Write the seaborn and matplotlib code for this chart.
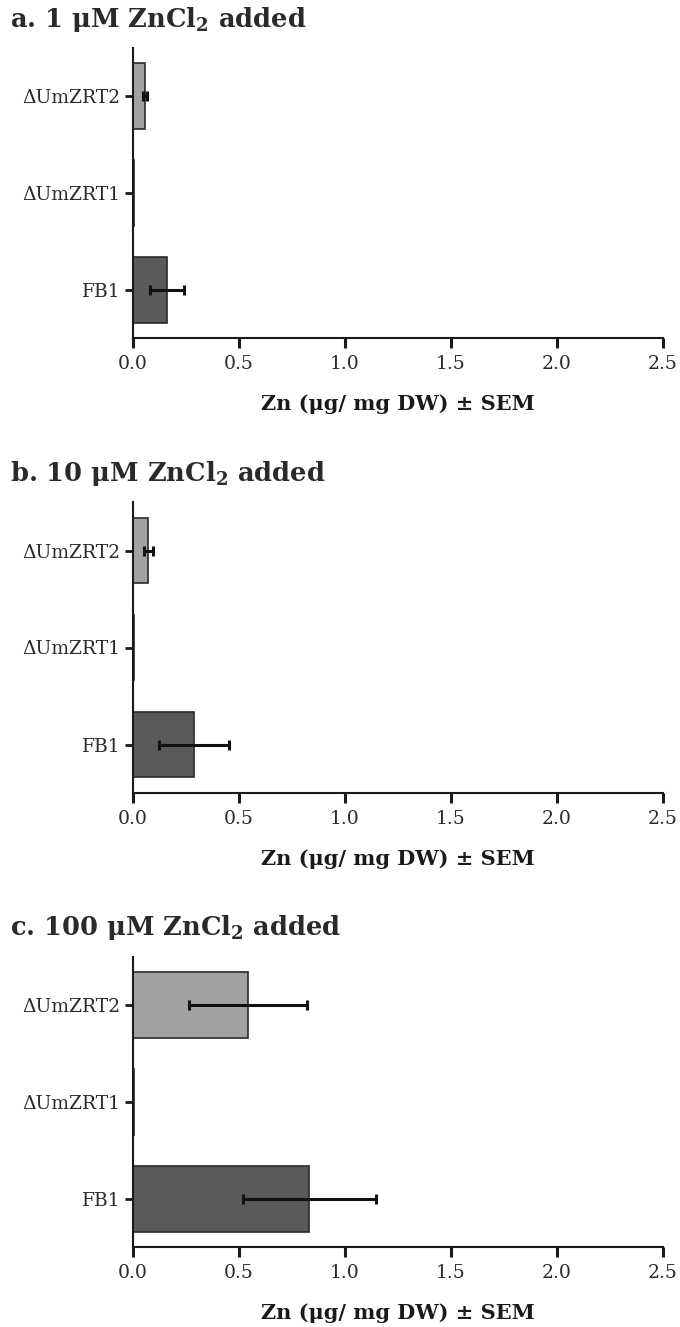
import numpy as np
import pandas as pd
import matplotlib
matplotlib.use('Agg')
import matplotlib.pyplot as plt
import seaborn as sns

# data (Zn ug/mg DW, mean and SEM)
strains = ['\u0394UmZRT2', '\u0394UmZRT1', 'FB1']
panel_titles = ['a. 1 \u03bcM ZnCl$_2$ added',
                'b. 10 \u03bcM ZnCl$_2$ added',
                'c. 100 \u03bcM ZnCl$_2$ added']
zn_1uM = [0.057, 0.004, 0.160]
sem_1uM = [0.010, 0.0, 0.082]
zn_10uM = [0.072, 0.004, 0.287]
sem_10uM = [0.021, 0.0, 0.166]
zn_100uM = [0.542, 0.004, 0.832]
sem_100uM = [0.280, 0.0, 0.314]
x_ticks = [0.0, 0.5, 1.0, 1.5, 2.0, 2.5]
bar_colors = ['#a2a2a2', '#8a8a8a', '#5a5a5a']

sns.set_style('white')
plt.rcParams['font.family'] = ['DejaVu Serif']
plt.rcParams['mathtext.fontset'] = 'custom'
plt.rcParams['mathtext.rm'] = 'DejaVu Serif:bold'
plt.rcParams['mathtext.bf'] = 'DejaVu Serif:bold'
plt.rcParams['mathtext.it'] = 'DejaVu Serif:bold'

fig = plt.figure(figsize=(6.8, 13.27), dpi=100)

left, width = 133 / 680, 530 / 680
# (top, bottom) of each axes in pixels
boxes = [(48, 338), (502, 793), (957, 1247)]
title_y = [20, 473, 928]

panels = [(zn_1uM, sem_1uM), (zn_10uM, sem_10uM), (zn_100uM, sem_100uM)]

for i, (vals, sems) in enumerate(panels):
    top, bot = boxes[i]
    ax = fig.add_axes([left, 1 - bot / 1327, width, (bot - top) / 1327])
    df = pd.DataFrame({'strain': strains, 'zn': vals, 'sem': sems})
    df['pos'] = np.arange(len(strains))
    sns.barplot(data=df, x='zn', y='strain', hue='strain', order=strains,
                palette=bar_colors, orient='h', width=0.68, errorbar=None,
                edgecolor='#2a2a2a', linewidth=1.2, legend=False, ax=ax)
    err = df[df['sem'] > 0]
    ax.errorbar(err['zn'], err['pos'], xerr=err['sem'],
                fmt='none', ecolor='#111111', elinewidth=2.2,
                capsize=3.8, capthick=2.2, zorder=5)
    ax.set_xlim(0, 2.5)
    ax.set_ylim(2.5, -0.5)
    ax.set_xticks(x_ticks)
    ax.set_xticklabels([f'{t:.1f}' for t in x_ticks])
    sns.despine(ax=ax)
    for s in ['left', 'bottom']:
        ax.spines[s].set_linewidth(1.5)
        ax.spines[s].set_color('#1a1a1a')
    ax.tick_params(axis='x', direction='out', length=7, width=2.2,
                   color='#1a1a1a', labelsize=13.5, pad=5, bottom=True,
                   labelcolor='#2a2a2a')
    ax.tick_params(axis='y', direction='out', length=6, width=2,
                   color='#1a1a1a', labelsize=13.5, pad=3, left=True,
                   labelcolor='#2a2a2a')
    ax.set_ylabel('')
    ax.set_xlabel('Zn (\u03bcg/ mg DW) \u00b1 SEM', fontsize=15,
                  fontweight='bold', color='#1a1a1a')
    ax.xaxis.set_label_coords(0.5, -66 / (bot - top))
    ax.xaxis.label.set_va('center')
    fig.text(10 / 680, 1 - title_y[i] / 1327, panel_titles[i],
             fontsize=18.5, fontweight='bold', color='#2a2a2a',
             ha='left', va='center')

fig.savefig('out.png', dpi=100)
